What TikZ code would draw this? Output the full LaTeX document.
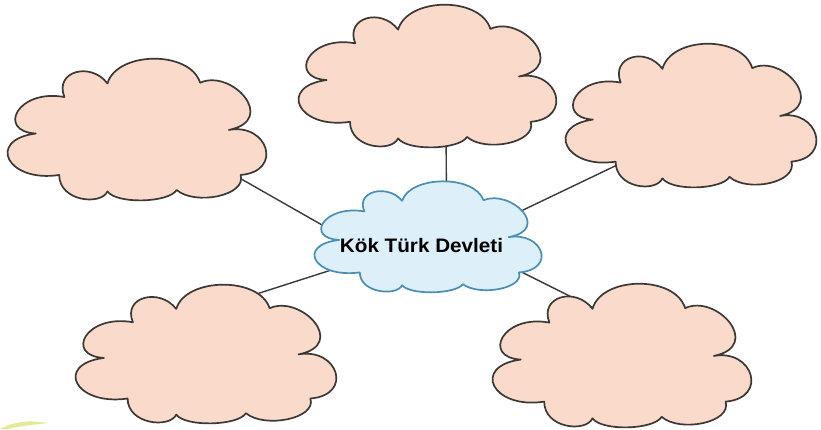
\documentclass[tikz,border=0pt]{standalone}
\usepackage{fontspec}
\usepackage{graphicx}
\setmainfont{Liberation Sans}
\definecolor{peach}{HTML}{FADACA}
\definecolor{peachline}{HTML}{3C3836}
\definecolor{skyfill}{HTML}{DDEFF9}
\definecolor{skyline}{HTML}{4A8DB5}
\definecolor{linkgray}{HTML}{3A3A3A}
\definecolor{streak}{HTML}{D8E36A}
\tikzset{
  pics/cloudpic/.style n args={2}{code={
    \begin{scope}[xscale=#1/100, yscale=#2/100]
      \path[pic actions]
        (11,53.5)
        .. controls (-4,52) and (4,22) .. (22,28)
        .. controls (18,10) and (32,3) .. (38.5,18.5)
        .. controls (42,-4) and (70,-5) .. (74,18)
        .. controls (86,8) and (104,44) .. (85,51)
        .. controls (100,46) and (106,80) .. (89.5,82.5)
        .. controls (92,97) and (72,104) .. (65,93)
        .. controls (62,102) and (42,103) .. (38.5,94)
        .. controls (36,104) and (20,101) .. (20,82.5)
        .. controls (0,88) and (-8,58) .. (11,53.5)
        -- cycle;
    \end{scope}
  }},
  cloudbox/.style={inner sep=0pt, outer sep=0pt},
  peachcloud/.style={fill=peach, draw=peachline, line width=1.7pt, line join=round},
  bluecloud/.style={fill=skyfill, draw=skyline, line width=1.7pt, line join=round},
  link/.style={draw=linkgray, line width=1.4pt},
  lbl/.style={font=\bfseries\fontsize{19.5}{22}\selectfont, text=black, inner sep=0pt}
}
\begin{document}
\begin{tikzpicture}[x=1pt, y=-1pt]
\useasboundingbox (0,0) rectangle (821,429);
\fill[white] (0,0) rectangle (821,429);
% invisible frames for the clouds
\node[cloudbox, minimum width=261, minimum height=143] (tl) at (137.5,128.5) {};
\node[cloudbox, minimum width=260, minimum height=144] (tc) at (428,75) {};
\node[cloudbox, minimum width=253, minimum height=145] (tr) at (691.5,114.5) {};
\node[cloudbox, minimum width=229, minimum height=112] (c) at (428.5,236) {};
\node[cloudbox, minimum width=263, minimum height=140] (bl) at (206.5,353) {};
\node[cloudbox, minimum width=261, minimum height=145] (br) at (622.5,354.5) {};
% connectors (covered by the clouds at both ends)
\draw[link] ([shift={(-59,16)}]c.center) -- ([shift={(66,29)}]tl.center);
\draw[link] ([shift={(18,-26)}]c.center) -- ([shift={(18,45)}]tc.center);
\draw[link] ([shift={(57,-8)}]c.center) -- ([shift={(4,13)}]tr.center);
\draw[link] ([shift={(-66,24)}]c.center) -- ([shift={(-3,-42)}]bl.center);
\draw[link] ([shift={(67,23)}]c.center) -- ([shift={(0,-32)}]br.center);
% clouds
\pic[peachcloud] at (tl.north west) {cloudpic={261}{143}};
\pic[peachcloud] at (tc.north west) {cloudpic={260}{144}};
\pic[peachcloud] at (tr.north west) {cloudpic={253}{145}};
\pic[peachcloud] at (bl.north west) {cloudpic={263}{140}};
\pic[peachcloud] at (br.north west) {cloudpic={261}{145}};
\pic[bluecloud] at (c.north west) {cloudpic={229}{112}};
\node[lbl] (title) at (421.5,246) {\scalebox{1.06}[1]{Kök Türk Devleti}};
% faint streak in the lower left corner
\fill[streak, opacity=0.7] (0,429) .. controls (15,421) and (30,420) .. (48,423) .. controls (30,425) and (15,427) .. (8,429) -- cycle;
\end{tikzpicture}
\end{document}
